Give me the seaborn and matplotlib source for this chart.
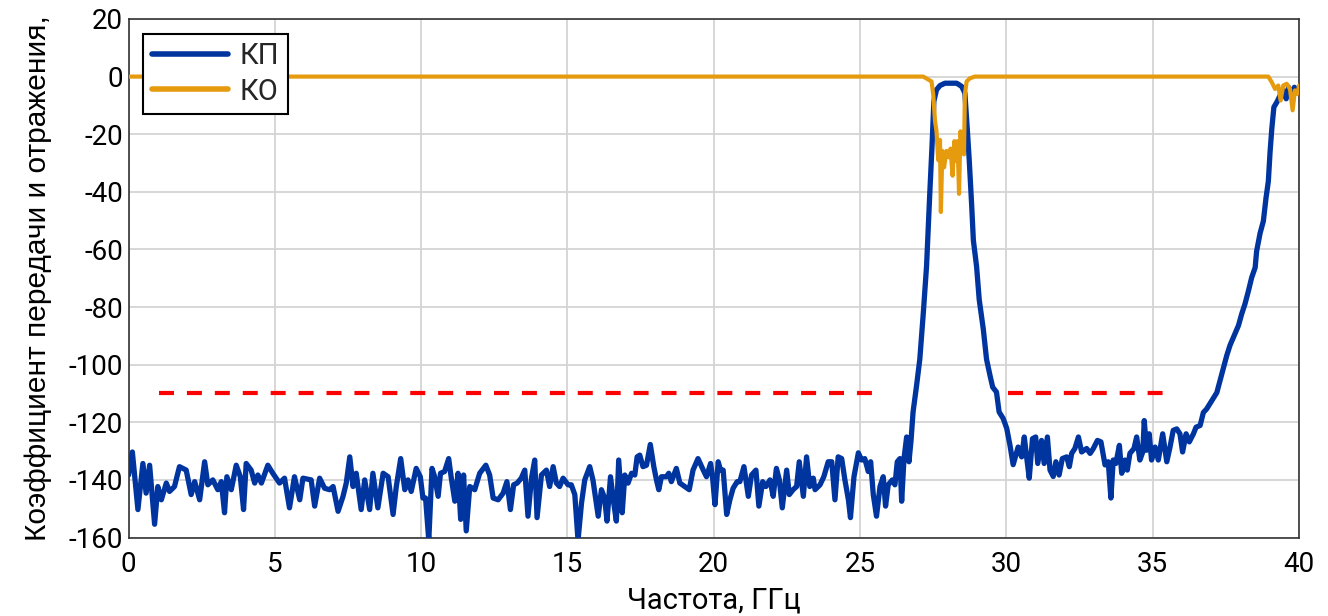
import matplotlib
matplotlib.use("Agg")
import numpy as np
import pandas as pd
import seaborn as sns
import matplotlib.pyplot as plt

# КП (transmission)
kp_freq = [0.00, 0.13, 0.32, 0.49, 0.60, 0.72, 0.89, 1.00, 1.12, 1.29, 1.40, 1.57, 1.74, 1.97,
           2.14, 2.26, 2.43, 2.60, 2.71, 2.88, 3.05, 3.17, 3.28, 3.36, 3.51, 3.68, 3.82, 3.93,
           4.02, 4.19, 4.31, 4.42, 4.54, 4.76, 4.93, 5.16, 5.33, 5.50, 5.67, 5.85, 5.96, 6.24,
           6.36, 6.53, 6.70, 6.87, 6.99, 7.16, 7.33, 7.44, 7.56, 7.67, 7.78, 7.95, 8.07, 8.24,
           8.35, 8.52, 8.70, 8.87, 9.04, 9.15, 9.30, 9.44, 9.55, 9.66, 9.83,
           9.97, 10.06, 10.15, 10.26, 10.37, 10.46, 10.58, 10.66, 10.80, 10.94, 11.03, 11.15,
           11.26, 11.35, 11.45, 11.54, 11.66, 11.83, 12.00, 12.21, 12.34, 12.46, 12.63, 12.80,
           12.93, 13.05, 13.16, 13.28, 13.42, 13.54, 13.65, 13.77, 13.88, 13.96, 14.11, 14.28,
           14.39, 14.51, 14.62, 14.73, 14.85, 15.02, 15.13, 15.25, 15.36, 15.48, 15.59, 15.76,
           15.87, 16.05, 16.16, 16.27, 16.35, 16.47, 16.58, 16.67, 16.75, 16.87, 16.96, 17.07,
           17.19, 17.30, 17.38, 17.47, 17.58, 17.70, 17.83, 17.95, 18.04, 18.12, 18.21, 18.38,
           18.46, 18.55, 18.72, 18.84, 19.01, 19.16, 19.29, 19.46,
           19.64, 19.75, 19.89, 19.96, 20.04, 20.15, 20.23, 20.32, 20.44, 20.55, 20.66, 20.80,
           20.89, 21.03, 21.18, 21.29, 21.44, 21.54, 21.67, 21.78, 21.92, 22.03, 22.14, 22.24,
           22.34, 22.49, 22.58, 22.71, 22.83, 22.92, 23.06, 23.17, 23.28, 23.40, 23.46, 23.63,
           23.76, 23.91, 24.03, 24.14, 24.25, 24.37, 24.48, 24.60, 24.67, 24.79, 24.94, 25.05,
           25.16, 25.28, 25.36, 25.45, 25.56, 25.68, 25.79, 25.87, 25.96, 26.10, 26.19, 26.27,
           26.36, 26.42, 26.50, 26.59, 26.67, 26.74,
           26.81, 26.93, 27.04, 27.16, 27.27, 27.38, 27.46, 27.52, 27.61, 27.73, 27.90, 28.30,
           28.47, 28.58, 28.66, 28.73, 28.81, 28.87, 28.98, 29.07, 29.21, 29.32, 29.44, 29.53,
           29.66, 29.75, 29.89, 30.01, 30.12, 30.23,
           30.40, 30.52, 30.61, 30.69, 30.78, 30.89, 31.00, 31.07, 31.20, 31.29, 31.40, 31.49,
           31.60, 31.69, 31.80, 31.91, 32.06, 32.15, 32.23, 32.34, 32.46, 32.57, 32.74, 32.86,
           32.97, 33.11, 33.23, 33.37, 33.48, 33.57, 33.65, 33.74, 33.86, 33.94, 34.05, 34.13,
           34.22, 34.36, 34.45, 34.56, 34.66, 34.71, 34.79, 34.88, 34.96, 35.08, 35.19, 35.34,
           35.48, 35.59, 35.70, 35.82, 35.93, 36.02, 36.14, 36.25, 36.39, 36.48, 36.62, 36.73,
           36.84, 37.01, 37.19, 37.30,
           37.41, 37.53, 37.64, 37.81, 37.93, 38.04, 38.15, 38.27, 38.38, 38.50, 38.55, 38.67,
           38.78, 38.87, 38.95, 39.01, 39.07, 39.14, 39.24, 39.35, 39.46, 39.56, 39.64, 39.75,
           39.84, 39.95, 40.00]
kp_db = [-138.3, -130.3, -150.3, -134.3, -144.6, -134.9, -155.4, -142.3, -146.9, -141.1, -144.0,
         -142.3, -135.4, -136.6, -145.1, -140.6, -146.9, -133.7, -141.7, -140.0, -143.4, -140.6,
         -151.4, -138.9, -143.4, -134.9, -138.9, -150.3, -134.3, -136.6, -141.1, -138.3, -141.1,
         -134.9, -137.7, -141.1, -139.4, -149.7, -138.9, -146.9, -139.4, -140.0, -149.1, -139.4,
         -142.9, -143.4, -142.3, -150.9, -145.7, -141.1, -132.0, -142.3, -137.7, -150.3, -140.0,
         -150.3, -137.7, -149.7, -137.7, -138.9, -152.0, -142.3, -132.6, -143.4, -140.0, -144.0,
         -136.0,
         -138.9, -146.3, -146.3, -161.0, -136.0, -138.9, -145.7, -137.7, -137.1, -132.6, -139.4,
         -147.4, -137.7, -153.7, -138.3, -157.7, -142.3, -143.4, -137.7, -134.9, -138.3, -146.3,
         -146.9, -144.6, -140.6, -150.3, -141.7, -141.1, -139.4, -136.6, -152.6, -139.4, -133.1,
         -153.1, -138.3, -136.6, -142.3, -135.4, -141.1, -142.3, -139.4, -141.7, -141.7, -145.1,
         -161.0, -148.0, -140.0, -135.4, -140.0, -152.6, -143.4, -146.3, -154.3, -138.9, -148.0,
         -154.3, -133.1, -151.4, -138.3, -141.1, -137.7, -138.3, -132.0, -131.4, -135.4, -134.9,
         -127.7, -135.4, -140.0, -143.4, -138.9, -138.9, -137.7, -140.6, -136.0, -141.1, -142.3,
         -143.4, -136.6, -132.6,
         -136.6, -138.9, -134.3, -139.4, -148.6, -133.7, -136.6, -136.6, -152.0, -146.9, -142.9,
         -140.6, -140.6, -135.4, -145.7, -138.3, -136.6, -149.1, -140.6, -142.3, -140.0, -145.7,
         -136.0, -140.0, -149.7, -136.6, -145.1, -143.4, -142.3, -133.7, -145.7, -132.0, -142.3,
         -139.4, -143.4, -141.7, -138.9, -133.7, -133.7, -146.9, -132.0, -132.6, -140.0, -146.9,
         -153.1, -138.9, -130.6, -133.1, -132.6, -137.1, -133.7, -145.1, -152.6, -142.3, -138.9,
         -149.1, -141.7, -140.0, -141.7, -133.7, -132.6, -147.4, -132.6, -125.1, -133.7, -126.3,
         -116.4, -107.2, -98.1, -82.0, -65.9, -40.7, -23.5, -8.6, -4.6, -3.1, -2.3, -2.3,
         -3.4, -5.7, -17.8, -29.2, -44.2, -56.8, -65.9, -77.4, -87.7, -98.1, -103.8, -107.8,
         -109.5, -116.4, -118.7, -122.1, -127.9, -134.7,
         -128.6, -132.0, -125.1, -132.0, -139.4, -125.7, -125.1, -134.3, -126.3, -134.3, -125.1,
         -136.6, -138.8, -133.7, -138.3, -132.6, -132.0, -135.4, -130.8, -129.1, -125.1, -130.3,
         -129.1, -130.8, -129.1, -126.3, -126.8, -134.8, -133.7, -146.3, -133.1, -134.3, -128.0,
         -137.7, -133.1, -136.6, -130.8, -129.1, -125.1, -133.1, -130.3, -119.4, -129.7, -124.0,
         -133.1, -128.6, -133.1, -124.0, -133.7, -128.6, -122.8, -122.3, -124.0, -130.3, -124.0,
         -126.8, -124.0, -121.7, -121.1, -116.6, -115.4, -112.6, -109.7, -105.5,
         -101.4, -96.8, -93.3, -89.3, -86.4, -82.4, -79.0, -74.4, -69.8, -66.3, -60.6, -54.3,
         -50.2, -42.2, -36.4, -26.1, -18.0, -10.6, -8.9, -6.6, -4.8, -7.7, -3.7, -7.1,
         -3.7, -5.4, -5.6]

# КО (reflection)
ko_freq = [0.00, 27.16, 27.44, 27.50, 27.56, 27.61, 27.67, 27.73, 27.76, 27.81, 27.87, 27.95,
           28.03, 28.09, 28.16, 28.22, 28.27, 28.33, 28.38, 28.43, 28.48, 28.55, 28.58, 28.64,
           28.75, 28.92, 38.95, 39.07, 39.18, 39.29, 39.37, 39.46, 39.58, 39.69, 39.78, 39.86,
           39.94, 40.00]
ko_db = [0.0, 0.0, -1.7, -6.3, -15.5, -19.0, -29.0, -22.0, -47.0, -25.8, -31.5, -25.8,
         -28.0, -25.0, -34.4, -22.4, -29.2, -22.4, -40.7, -19.0, -25.8, -27.0, -6.3, -1.7,
         -0.6, 0.0, 0.0, -2.0, -4.3, -3.1, -8.3, -3.1, -2.5, -4.3, -11.7, -4.8, -6.0, -3.1]

# red requirement lines
mask_left = [1.05, 25.6]
mask_right = [30.05, 35.42]
mask_level = -110

x_ticks = list(range(0, 41, 5))
y_ticks = list(range(-160, 21, 20))

sns.set_theme(style="whitegrid")
plt.rcParams['font.family'] = ['Roboto', 'DejaVu Sans']
plt.rcParams['axes.unicode_minus'] = False

fig = plt.figure(figsize=(13.28, 6.16), dpi=100)
ax = fig.add_axes([0.0968, 0.1274, 0.8814, 0.8418])

kp = pd.DataFrame({'f': kp_freq, 'db': kp_db})
ko = pd.DataFrame({'f': ko_freq, 'db': ko_db})

for seg in (mask_left, mask_right):
    ax.plot(seg, [mask_level, mask_level], color='#ff0000', lw=3,
            linestyle=(0, (3.6, 3.1)), zorder=2)

sns.lineplot(data=kp, x='f', y='db', color='#0035a0', lw=3.8, label='КП',
             estimator=None, sort=False, ax=ax, zorder=3)
sns.lineplot(data=ko, x='f', y='db', color='#e69a0e', lw=3.0, label='КО',
             estimator=None, sort=False, ax=ax, zorder=4)

ax.set_xlim(0, 40)
ax.set_ylim(-160, 20)
ax.set_xticks(x_ticks)
ax.set_yticks(y_ticks)
ax.tick_params(axis='both', labelsize=20, length=0, colors='black')
ax.tick_params(axis='x', pad=10)
ax.tick_params(axis='y', pad=4)
ax.grid(True, color='#d4d4d4', lw=1.3)

for sp in ax.spines.values():
    sp.set_visible(True)
    sp.set_color('#333333')
    sp.set_linewidth(1.2)

ax.set_xlabel('Частота, ГГц', fontsize=21, color='black', labelpad=6)
ax.set_ylabel('Коэффициент передачи и отражения,', fontsize=21.5, color='black',
              labelpad=12, family=['Liberation Sans', 'DejaVu Sans'])

leg = ax.legend(loc='upper left', fontsize=21, frameon=True, fancybox=False,
                edgecolor='black', framealpha=1, borderaxespad=0.5, handlelength=2.6,
                handletextpad=0.4, labelspacing=0.25, borderpad=0.3)
leg.get_frame().set_linewidth(1.5)
for line in leg.get_lines():
    line.set_linewidth(4)

fig.savefig('out.png', dpi=100)
